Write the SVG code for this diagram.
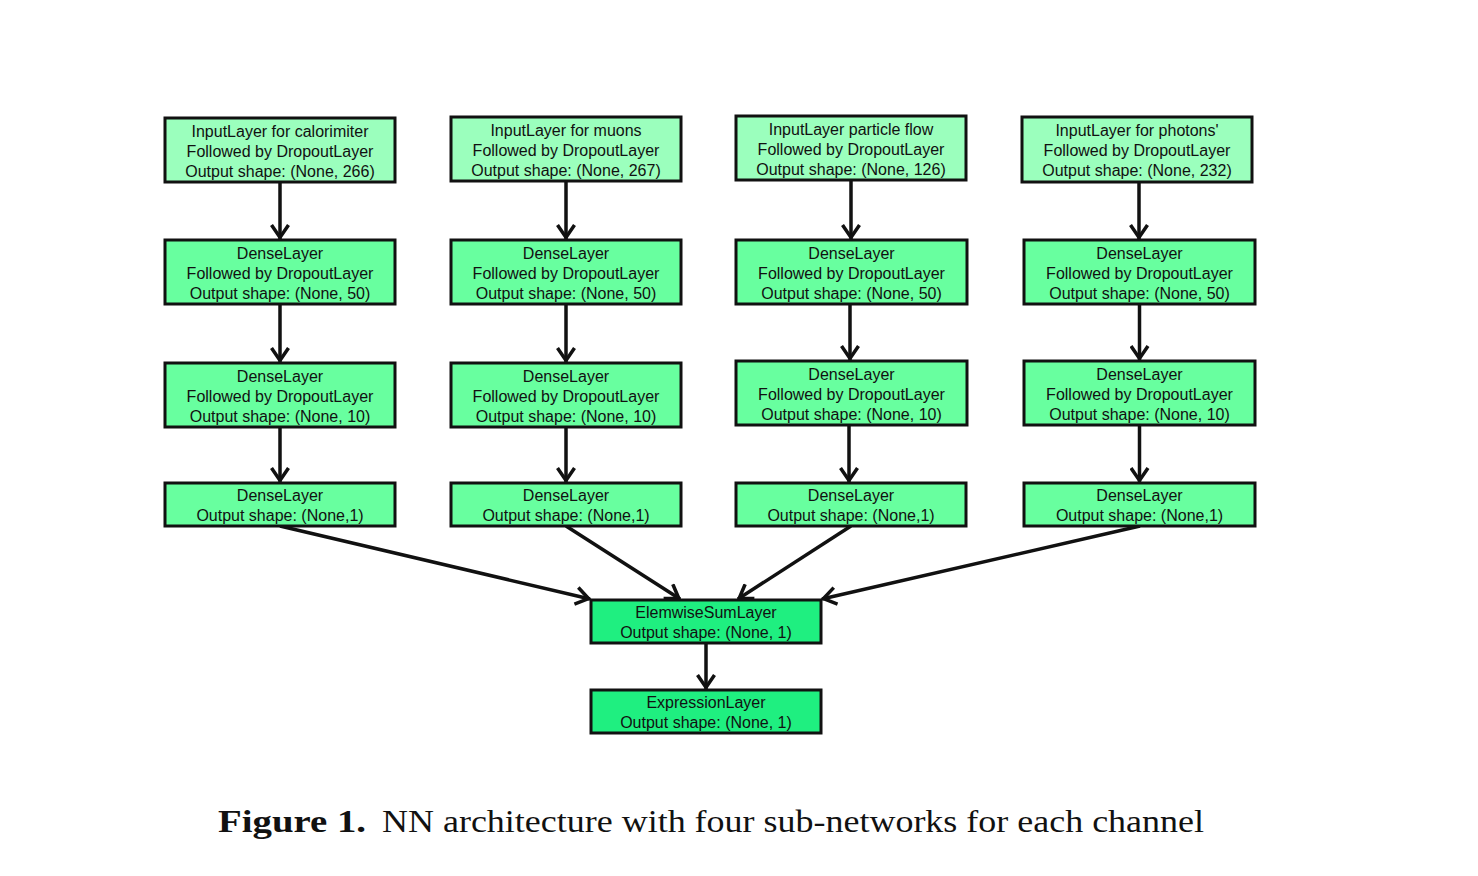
<svg xmlns="http://www.w3.org/2000/svg" width="1478" height="876" viewBox="0 0 1478 876">
<style>
.box{stroke:#111;stroke-width:3}
.in{fill:#9bffbd}
.dn{fill:#68ff9f}
.out{fill:#1fef80}
.t{font-family:"Liberation Sans",Arial,sans-serif;font-size:16px;fill:#111;text-anchor:middle}
.c{stroke:#111;stroke-width:3.5;fill:none}
.cap{font-family:"Liberation Serif","Times New Roman",serif;font-size:31px;fill:#111}
</style>
<defs>
<marker id="ah" viewBox="-16 -10 18 20" markerWidth="18" markerHeight="20" refX="0" refY="0" orient="auto" markerUnits="userSpaceOnUse">
<path d="M-14,-8.5 L-1.5,0 L-14,8.5" stroke="#111" stroke-width="3.5" fill="none"/>
</marker>
</defs>
<rect width="1478" height="876" fill="#fff"/>

<g id="connectors">
<line class="c" x1="280" y1="182" x2="280" y2="239" marker-end="url(#ah)"/>
<line class="c" x1="280" y1="304" x2="280" y2="362" marker-end="url(#ah)"/>
<line class="c" x1="280" y1="427" x2="280" y2="482" marker-end="url(#ah)"/>
<line class="c" x1="566" y1="181" x2="566" y2="239" marker-end="url(#ah)"/>
<line class="c" x1="566" y1="304" x2="566" y2="362" marker-end="url(#ah)"/>
<line class="c" x1="566" y1="427" x2="566" y2="482" marker-end="url(#ah)"/>
<line class="c" x1="851" y1="180" x2="851" y2="239" marker-end="url(#ah)"/>
<line class="c" x1="850" y1="304" x2="850" y2="360" marker-end="url(#ah)"/>
<line class="c" x1="849" y1="425" x2="849" y2="482" marker-end="url(#ah)"/>
<line class="c" x1="1139" y1="182" x2="1139" y2="239" marker-end="url(#ah)"/>
<line class="c" x1="1139.5" y1="304" x2="1139.5" y2="360" marker-end="url(#ah)"/>
<line class="c" x1="1139.5" y1="425" x2="1139.5" y2="482" marker-end="url(#ah)"/>
<line class="c" x1="280" y1="526" x2="590" y2="599" marker-end="url(#ah)"/>
<line class="c" x1="566" y1="526" x2="680" y2="599" marker-end="url(#ah)"/>
<line class="c" x1="851" y1="526" x2="738" y2="599" marker-end="url(#ah)"/>
<line class="c" x1="1140" y1="526" x2="822" y2="599" marker-end="url(#ah)"/>
<line class="c" x1="706" y1="643" x2="706" y2="689" marker-end="url(#ah)"/>
</g>

<g id="input-calorimiter">
<rect class="box in" x="165" y="118" width="230" height="64"/>
<text class="t" x="280" y="137">InputLayer for calorimiter</text>
<text class="t" x="280" y="157">Followed by DropoutLayer</text>
<text class="t" x="280" y="177">Output shape: (None, 266)</text>
</g>
<g id="input-muons">
<rect class="box in" x="451" y="117" width="230" height="64"/>
<text class="t" x="566" y="136">InputLayer for muons</text>
<text class="t" x="566" y="156">Followed by DropoutLayer</text>
<text class="t" x="566" y="176">Output shape: (None, 267)</text>
</g>
<g id="input-pflow">
<rect class="box in" x="736" y="116" width="230" height="64"/>
<text class="t" x="851" y="135">InputLayer particle flow</text>
<text class="t" x="851" y="155">Followed by DropoutLayer</text>
<text class="t" x="851" y="175">Output shape: (None, 126)</text>
</g>
<g id="input-photons">
<rect class="box in" x="1022" y="117" width="230" height="65"/>
<text class="t" x="1137" y="136">InputLayer for photons'</text>
<text class="t" x="1137" y="156">Followed by DropoutLayer</text>
<text class="t" x="1137" y="176">Output shape: (None, 232)</text>
</g>

<g id="dense50-1">
<rect class="box dn" x="165" y="240" width="230" height="64"/>
<text class="t" x="280" y="259">DenseLayer</text>
<text class="t" x="280" y="279">Followed by DropoutLayer</text>
<text class="t" x="280" y="299">Output shape: (None, 50)</text>
</g>
<g id="dense50-2">
<rect class="box dn" x="451" y="240" width="230" height="64"/>
<text class="t" x="566" y="259">DenseLayer</text>
<text class="t" x="566" y="279">Followed by DropoutLayer</text>
<text class="t" x="566" y="299">Output shape: (None, 50)</text>
</g>
<g id="dense50-3">
<rect class="box dn" x="736" y="240" width="231" height="64"/>
<text class="t" x="851.5" y="259">DenseLayer</text>
<text class="t" x="851.5" y="279">Followed by DropoutLayer</text>
<text class="t" x="851.5" y="299">Output shape: (None, 50)</text>
</g>
<g id="dense50-4">
<rect class="box dn" x="1024" y="240" width="231" height="64"/>
<text class="t" x="1139.5" y="259">DenseLayer</text>
<text class="t" x="1139.5" y="279">Followed by DropoutLayer</text>
<text class="t" x="1139.5" y="299">Output shape: (None, 50)</text>
</g>

<g id="dense10-1">
<rect class="box dn" x="165" y="363" width="230" height="64"/>
<text class="t" x="280" y="382">DenseLayer</text>
<text class="t" x="280" y="402">Followed by DropoutLayer</text>
<text class="t" x="280" y="422">Output shape: (None, 10)</text>
</g>
<g id="dense10-2">
<rect class="box dn" x="451" y="363" width="230" height="64"/>
<text class="t" x="566" y="382">DenseLayer</text>
<text class="t" x="566" y="402">Followed by DropoutLayer</text>
<text class="t" x="566" y="422">Output shape: (None, 10)</text>
</g>
<g id="dense10-3">
<rect class="box dn" x="736" y="361" width="231" height="64"/>
<text class="t" x="851.5" y="380">DenseLayer</text>
<text class="t" x="851.5" y="400">Followed by DropoutLayer</text>
<text class="t" x="851.5" y="420">Output shape: (None, 10)</text>
</g>
<g id="dense10-4">
<rect class="box dn" x="1024" y="361" width="231" height="64"/>
<text class="t" x="1139.5" y="380">DenseLayer</text>
<text class="t" x="1139.5" y="400">Followed by DropoutLayer</text>
<text class="t" x="1139.5" y="420">Output shape: (None, 10)</text>
</g>

<g id="dense1-1">
<rect class="box dn" x="165" y="483" width="230" height="43"/>
<text class="t" x="280" y="501">DenseLayer</text>
<text class="t" x="280" y="521">Output shape: (None,1)</text>
</g>
<g id="dense1-2">
<rect class="box dn" x="451" y="483" width="230" height="43"/>
<text class="t" x="566" y="501">DenseLayer</text>
<text class="t" x="566" y="521">Output shape: (None,1)</text>
</g>
<g id="dense1-3">
<rect class="box dn" x="736" y="483" width="230" height="43"/>
<text class="t" x="851" y="501">DenseLayer</text>
<text class="t" x="851" y="521">Output shape: (None,1)</text>
</g>
<g id="dense1-4">
<rect class="box dn" x="1024" y="483" width="231" height="43"/>
<text class="t" x="1139.5" y="501">DenseLayer</text>
<text class="t" x="1139.5" y="521">Output shape: (None,1)</text>
</g>

<g id="elemwise-sum">
<rect class="box out" x="591" y="600" width="230" height="43"/>
<text class="t" x="706" y="618">ElemwiseSumLayer</text>
<text class="t" x="706" y="638">Output shape: (None, 1)</text>
</g>
<g id="expression">
<rect class="box out" x="591" y="690" width="230" height="43"/>
<text class="t" x="706" y="708">ExpressionLayer</text>
<text class="t" x="706" y="728">Output shape: (None, 1)</text>
</g>

<text class="cap" x="218" y="832" font-weight="bold" textLength="148" lengthAdjust="spacingAndGlyphs">Figure 1.</text>
<text class="cap" x="382" y="832" textLength="822" lengthAdjust="spacingAndGlyphs">NN architecture with four sub-networks for each channel</text>
</svg>
